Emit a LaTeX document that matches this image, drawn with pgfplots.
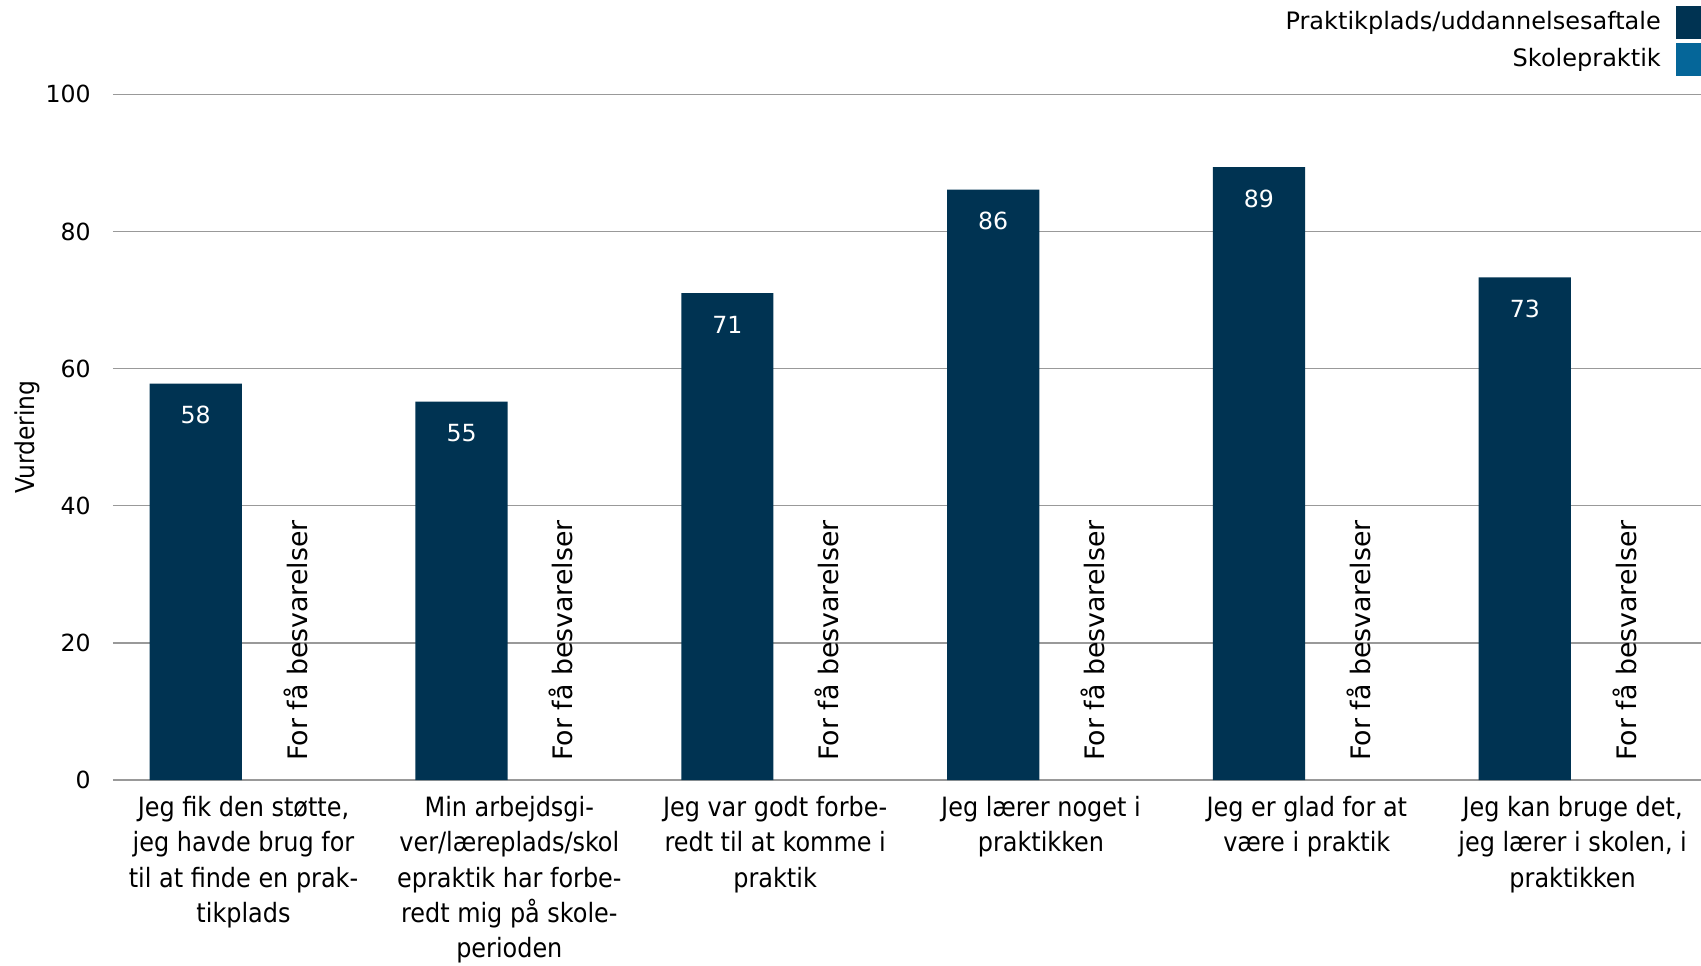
\documentclass[border=0pt]{standalone}
\usepackage{pgfplots}
\pgfplotsset{compat=1.18}
\usepackage{fontspec}
\setmainfont{DejaVu Sans}
\newfontfamily\condfont{DejaVu Sans Condensed}
\definecolor{navy}{RGB}{0,51,82}
\definecolor{skole}{RGB}{5,102,153}
\pgfplotsset{
  sq legend/.style={legend image code/.code={\path (0pt,0pt); \fill[##1] (5.4pt,-8.25pt) rectangle (17.9pt,8.25pt);}},
}
\begin{document}
\begin{tikzpicture}
\begin{axis}[
  scale only axis,
  width=794pt, height=342.8pt,
  xmin=-0.491, xmax=5.483,
  ymin=0, ymax=100,
  ytick={0,20,...,100},
  xtick={0,...,5},
  xticklabels={
    {Jeg fik den støtte,\\jeg havde brug for\\til at finde en prak-\\tikplads},
    {Min arbejdsgi-\\ver/læreplads/skol\\epraktik har forbe-\\redt mig på skole-\\perioden},
    {Jeg var godt forbe-\\redt til at komme i\\praktik},
    {Jeg lærer noget i\\praktikken},
    {Jeg er glad for at\\være i praktik},
    {Jeg kan bruge det,\\jeg lærer i skolen, i\\praktikken}},
  axis line style={draw=none},
  tick style={draw=none},
  ymajorgrids,
  grid style={black!40, line width=0.7pt},
  /pgf/number format/assume math mode=true,
  yticklabel style={font=\fontsize{11.8}{14}\selectfont, inner sep=0pt, xshift=-11pt},
  xticklabel style={font=\condfont\fontsize{13.3}{17.6}\selectfont, align=center, anchor=north, inner sep=0pt, yshift=-8pt},
  ylabel={Vurdering},
  every axis y label/.style={at={(rel axis cs:0,0.5)}, xshift=-43pt, rotate=90, anchor=center, font=\condfont\fontsize{13}{15}\selectfont},
  legend style={at={(rel axis cs:1,1)}, anchor=north east, yshift=44.5pt, draw=none, fill=none, inner sep=0pt,
    font=\fontsize{12}{14}\selectfont, legend cell align=right, row sep=2pt},
  legend plot pos=right,
]
\addplot[ybar, bar width=46.1pt, bar shift=-23.9pt, fill=navy, draw=none, sq legend,
  nodes near coords={\pgfmathprintnumber[fixed, precision=0]{\pgfplotspointmeta}},
  every node near coord/.append style={white, anchor=center, xshift=-23.9pt, yshift=-15.7pt, font=\fontsize{11.8}{14}\selectfont}]
  coordinates {(0,57.8) (1,55.2) (2,71.0) (3,86.1) (4,89.4) (5,73.3)};
\addlegendentry{Praktikplads/uddannelsesaftale}
\addlegendimage{fill=skole, draw=none, sq legend}
\addlegendentry{Skolepraktik}
% skolepraktik: too few answers, only a note
\addplot[forget plot, draw=none, mark=none,
  nodes near coords={For få besvarelser},
  every node near coord/.style={xshift=26pt, yshift=9.5pt, rotate=90, anchor=west, inner sep=0pt, black, font=\fontsize{13.4}{15}\selectfont}]
  coordinates {(0,0) (1,0) (2,0) (3,0) (4,0) (5,0)};
\end{axis}
\pgfresetboundingbox
\path[use as bounding box] (current axis.south west) ++(-56.5pt,-92.5pt) rectangle ([yshift=47.2pt]current axis.north east);
\end{tikzpicture}
\end{document}
